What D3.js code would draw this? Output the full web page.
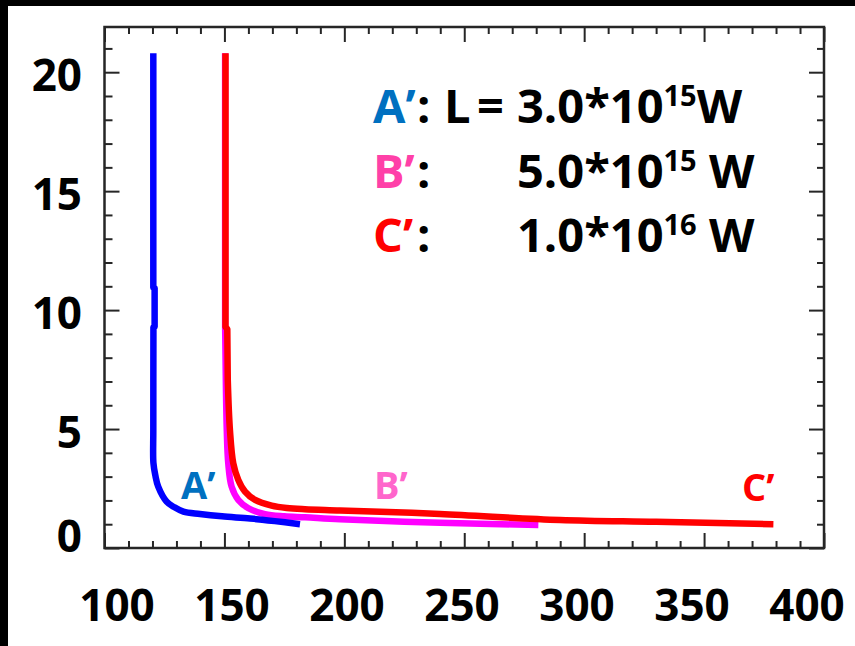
<!DOCTYPE html>
<html>
<head>
<meta charset="utf-8">
<script src="https://cdn.jsdelivr.net/npm/d3@7"></script>
<style>
  html, body { margin: 0; padding: 0; background: #000; }
  svg { display: block; font-family: "Open Sans", "Liberation Sans", sans-serif; font-weight: 700; }
</style>
</head>
<body>
<svg width="855" height="646"></svg>
<script>
var width = 855;
var height = 646;
var frame = {left: 104.5, right: 824, top: 27, bottom: 548};

// tick labels
var xTicks = [100, 150, 200, 250, 300, 350, 400];
var yTicks = [0, 5, 10, 15, 20];

// curves, [x, y]
var curveA = [
  [120.35, 20.8], [120.35, 10.95], [120.9, 10.93], [120.9, 9.3], [120.4, 9.28],
  [120.35, 4.96], [120.4, 3.57], [121.2, 3.05], [122.4, 2.58], [125.9, 1.95],
  [129, 1.72], [132.9, 1.53], [139.8, 1.43], [149, 1.33], [160.7, 1.24],
  [171, 1.13], [181.5, 1.0]
];
var curveB = [
  [150.3, 20.8], [150.3, 9.3], [150.6, 7.0], [151.0, 4.9], [151.6, 3.56],
  [153.0, 2.58], [155.8, 2.02], [160.0, 1.67], [166.9, 1.42], [175, 1.33],
  [183.6, 1.29], [198.2, 1.21], [239.9, 1.06], [280.9, 0.97]
];
var curveC = [
  [150.45, 20.8], [150.45, 9.3], [151.2, 9.2], [151.4, 7.06], [152.3, 4.96],
  [153.7, 3.56], [155.8, 2.86], [158.6, 2.37], [162.8, 2.02], [169.7, 1.78],
  [176, 1.68], [183.6, 1.63], [198.2, 1.58], [239.9, 1.43], [289.9, 1.18],
  [330, 1.1], [378.9, 1.0]
];

var svg = d3.select('svg');

// white page on black
svg.append('rect').attr('x', 0).attr('y', 0).attr('width', width).attr('height', height).attr('fill', '#000');
svg.append('rect').attr('x', 8).attr('y', 6).attr('width', width - 8).attr('height', height - 6).attr('fill', '#fff');

var x = d3.scaleLinear().domain([100, 400]).range([frame.left, frame.right]);
var y = d3.scaleLinear().domain([0, 21.9]).range([frame.bottom, frame.top]);
// the tick labels sit a little off the ticks in the picture
var xLabel = d3.scaleLinear().domain([100, 400]).range([117, 807]);

var minorX = d3.range(100, 401, 10).filter(function (v) { return v % 50 != 0; });
var minorY = d3.range(0, 22, 1).filter(function (v) { return v % 5 != 0; });

function styleAxis(g) {
  g.select('.domain').remove();
  g.selectAll('line').attr('stroke', '#262626').attr('stroke-width', 2);
}

// inward ticks on all four sides
svg.append('g').attr('transform', 'translate(0,' + frame.bottom + ')')
  .call(d3.axisBottom(x).tickValues(minorX).tickSize(-7).tickFormat('')).call(styleAxis);
svg.append('g').attr('transform', 'translate(0,' + frame.bottom + ')')
  .call(d3.axisBottom(x).tickValues(xTicks).tickSize(-15).tickFormat('')).call(styleAxis);
svg.append('g').attr('transform', 'translate(0,' + frame.top + ')')
  .call(d3.axisTop(x).tickValues(minorX).tickSize(-7).tickFormat('')).call(styleAxis);
svg.append('g').attr('transform', 'translate(0,' + frame.top + ')')
  .call(d3.axisTop(x).tickValues(xTicks).tickSize(-15).tickFormat('')).call(styleAxis);
svg.append('g').attr('transform', 'translate(' + frame.left + ',0)')
  .call(d3.axisLeft(y).tickValues(minorY).tickSize(-8).tickFormat('')).call(styleAxis);
svg.append('g').attr('transform', 'translate(' + frame.left + ',0)')
  .call(d3.axisLeft(y).tickValues(yTicks).tickSize(-15).tickFormat('')).call(styleAxis);
svg.append('g').attr('transform', 'translate(' + frame.right + ',0)')
  .call(d3.axisRight(y).tickValues(minorY).tickSize(-7).tickFormat('')).call(styleAxis);
svg.append('g').attr('transform', 'translate(' + frame.right + ',0)')
  .call(d3.axisRight(y).tickValues(yTicks).tickSize(-15).tickFormat('')).call(styleAxis);

svg.append('rect')
  .attr('x', frame.left).attr('y', frame.top)
  .attr('width', frame.right - frame.left).attr('height', frame.bottom - frame.top)
  .attr('fill', 'none').attr('stroke', '#262626').attr('stroke-width', 2.5);

// tick labels
svg.selectAll('.xlab').data(xTicks).enter().append('text')
  .attr('class', 'xlab')
  .attr('x', function (d) { return xLabel(d); })
  .attr('y', 621)
  .attr('text-anchor', 'middle')
  .attr('font-size', 44)
  .attr('fill', '#000')
  .text(function (d) { return d; });

svg.selectAll('.ylab').data(yTicks).enter().append('text')
  .attr('class', 'ylab')
  .attr('x', 82)
  .attr('y', function (d) { return Math.min(y(d) + 3, 536) + 16; })
  .attr('text-anchor', 'end')
  .attr('font-size', 44)
  .attr('fill', '#000')
  .text(function (d) { return d; });

// curves
var defs = svg.append('defs');
defs.append('filter').attr('id', 'soft')
  .append('feGaussianBlur').attr('stdDeviation', 0.6);

var stemLine = d3.line()
  .x(function (d) { return x(d[0]); })
  .y(function (d) { return y(d[1]); });
var kneeLine = d3.line()
  .x(function (d) { return x(d[0]); })
  .y(function (d) { return y(d[1]); })
  .curve(d3.curveCatmullRom.alpha(0.5));

// straight stem down to y ~ 5, smooth knee after that
function curvePath(data) {
  var k = data.findIndex(function (d) { return d[1] < 5; });
  return stemLine(data.slice(0, k)) + kneeLine(data.slice(k - 1)).replace(/^M/, 'L');
}

var curves = [
  {data: curveB, color: '#ff00ff'},
  {data: curveC, color: '#ff0000'},
  {data: curveA, color: '#0000ff'}
];
curves.forEach(function (c) {
  svg.append('path')
    .attr('d', curvePath(c.data))
    .attr('fill', 'none')
    .attr('stroke', c.color)
    .attr('stroke-width', 6.5)
    .attr('stroke-linejoin', 'round')
    .attr('filter', 'url(#soft)');
});

// curve labels
svg.append('text').attr('x', 181).attr('y', 499).attr('font-size', 38).attr('fill', '#0070c0').text('A\u2019');
svg.append('text').attr('x', 374).attr('y', 499).attr('font-size', 38).attr('fill', '#ff66cc').text('B\u2019');
svg.append('text').attr('x', 742).attr('y', 501).attr('font-size', 38).attr('fill', '#ff0000').text('C\u2019');

// legend block
var legendRows = [
  {name: 'A\u2019', color: '#0070c0', mant: '3.0*10', exp: '15', unit: 'W', y: 123},
  {name: 'B\u2019', color: '#ff40a8', mant: '5.0*10', exp: '15', unit: ' W', y: 188},
  {name: 'C\u2019', color: '#ff0000', mant: '1.0*10', exp: '16', unit: ' W', y: 252}
];
legendRows.forEach(function (r, i) {
  svg.append('text').attr('x', 373).attr('y', r.y).attr('font-size', 47).attr('fill', r.color).text(r.name);
  svg.append('text').attr('x', 417).attr('y', r.y).attr('font-size', 47).attr('fill', '#000').text(':');
  if (i == 0) {
    svg.append('text').attr('x', 444).attr('y', r.y).attr('font-size', 47).attr('fill', '#000').text('L');
    svg.append('text').attr('x', 477).attr('y', r.y).attr('font-size', 47).attr('fill', '#000').text('=');
  }
  var t = svg.append('text').attr('x', 517).attr('y', r.y).attr('font-size', 47).attr('fill', '#000');
  t.append('tspan').text(r.mant);
  t.append('tspan').attr('font-size', 29).attr('dy', -17).text(r.exp);
  t.append('tspan').attr('dy', 17).text(r.unit);
});
</script>
</body>
</html>
